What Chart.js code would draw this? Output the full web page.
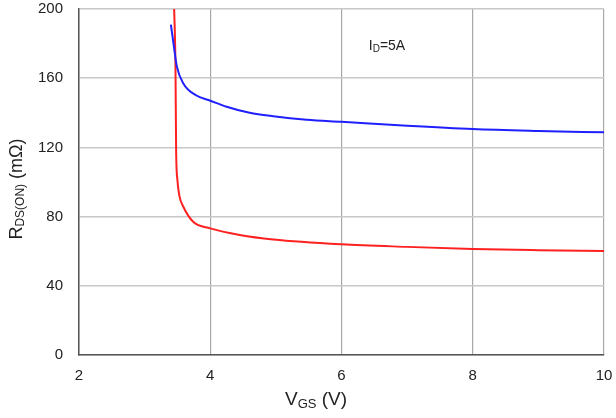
<!DOCTYPE html>
<html>
<head>
<meta charset="utf-8">
<script src="https://cdn.jsdelivr.net/npm/chart.js@4/dist/chart.umd.min.js"></script>
<style>
  html, body { margin: 0; padding: 0; background: #fff; }
  #wrap { width: 616px; height: 418px; }
</style>
</head>
<body>
<div id="wrap"><canvas id="chart"></canvas></div>
<script>
// VGS (V) / RDS(ON) (mOhm)
var vgsBlue = [3.40, 3.44, 3.49, 3.59, 3.79, 4.0, 4.25, 4.6, 4.96, 5.47, 6.0, 7.0, 8.0, 9.0, 10.0];
var rdsBlue = [191, 180, 167, 157, 150, 147, 143.5, 140, 138, 136, 134.8, 132.5, 130.6, 129.5, 128.7];

var vgsRed = [3.44, 3.45, 3.47, 3.48, 3.50, 3.53, 3.59, 3.74, 4.0, 4.45, 4.96, 6.0, 7.0, 8.0, 9.0, 10.0];
var rdsRed = [215, 200, 167, 118.5, 101, 92, 85.7, 77, 73.2, 69.4, 66.8, 64, 62.5, 61.3, 60.6, 60.1];

var xTicks = [2, 4, 6, 8, 10];
var yTicks = [0, 40, 80, 120, 160, 200];

function pts(xs, ys) {
  return xs.map(function (x, i) { return { x: x, y: ys[i] }; });
}

// draws text with a subscript part, e.g. R + "DS(ON)" + " (mΩ)"
function subText(ctx, parts, x, y, size) {
  var widths = parts.map(function (p) {
    ctx.font = (p.sub ? Math.round(size * 0.68) : size) + "px 'Liberation Sans', Arial, sans-serif";
    return ctx.measureText(p.t).width;
  });
  var total = widths.reduce(function (a, b) { return a + b; }, 0);
  var cx = x - total / 2;
  parts.forEach(function (p, i) {
    ctx.font = (p.sub ? Math.round(size * 0.68) : size) + "px 'Liberation Sans', Arial, sans-serif";
    ctx.fillText(p.t, cx, p.sub ? y + size * 0.22 : y);
    cx += widths[i];
  });
}

var titles = {
  id: "titles",
  afterDraw: function (chart) {
    var ctx = chart.ctx;
    ctx.save();
    ctx.fillStyle = "#222";
    ctx.textBaseline = "middle";
    ctx.textAlign = "left";
    // x axis title
    subText(ctx, [{ t: "V" }, { t: "GS", sub: true }, { t: " (V)" }], 316, 400, 19);
    // y axis title
    ctx.save();
    ctx.translate(17, 189);
    ctx.rotate(-Math.PI / 2);
    subText(ctx, [{ t: "R" }, { t: "DS(ON)", sub: true }, { t: " (m\u03A9)" }], 0, 0, 18);
    ctx.restore();
    // condition label
    subText(ctx, [{ t: "I" }, { t: "D", sub: true }, { t: "=5A" }], 387, 46, 14);
    ctx.restore();
  }
};

var ctx = document.getElementById("chart");
var myChart = new Chart(ctx, {
  type: "line",
  data: {
    datasets: [
      {
        label: "blue",
        data: pts(vgsBlue, rdsBlue),
        borderColor: "#1f1fff",
        borderWidth: 2,
        pointRadius: 0,
        cubicInterpolationMode: "monotone",
      },
      {
        label: "red",
        data: pts(vgsRed, rdsRed),
        borderColor: "#ff2020",
        borderWidth: 2,
        pointRadius: 0,
        cubicInterpolationMode: "monotone",
      },
    ],
  },
  options: {
    responsive: true,
    maintainAspectRatio: false,
    animation: false,
    layout: { autoPadding: false, padding: { top: 9, right: 12, left: 0, bottom: 0 } },
    plugins: {
      legend: { display: false },
      title: { display: false },
      tooltip: { enabled: false },
    },
    scales: {
      x: {
        type: "linear",
        min: 2,
        max: 10,
        afterBuildTicks: function (s) { s.ticks = xTicks.map(function (v) { return { value: v }; }); },
        afterFit: function (s) { s.height = 63; s.paddingLeft = 0; s.paddingRight = 0; },
        grid: { color: "#a8a8a8", lineWidth: 1.2, drawTicks: false },
        border: { color: "#555", width: 1.5 },
        ticks: { padding: 12, color: "#222", font: { size: 15, family: "'Liberation Sans', Arial, sans-serif" } },
      },
      y: {
        min: 0,
        max: 200,
        afterBuildTicks: function (s) { s.ticks = yTicks.map(function (v) { return { value: v }; }); },
        afterFit: function (s) { s.width = 79; s.paddingTop = 0; s.paddingBottom = 0; },
        grid: { color: "#c8c8c8", lineWidth: 1.5, drawTicks: false },
        border: { color: "#555", width: 1.5 },
        ticks: { padding: 16, color: "#222", font: { size: 15, family: "'Liberation Sans', Arial, sans-serif" } },
      },
    },
  },
  plugins: [titles],
});
</script>
</body>
</html>
